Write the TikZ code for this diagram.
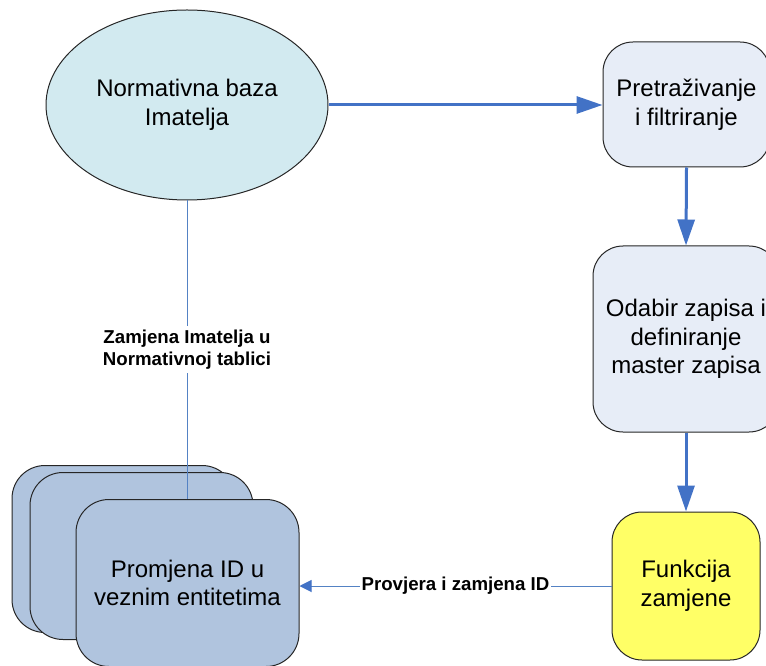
\documentclass[tikz,border=0pt]{standalone}
\usepackage{fontspec}
\setmainfont{Liberation Sans}
\usetikzlibrary{shapes.geometric,arrows.meta}

\definecolor{ellfill}{RGB}{210,234,240}
\definecolor{procfill}{RGB}{231,237,247}
\definecolor{stackfill}{RGB}{176,196,222}
\definecolor{funcfill}{RGB}{255,255,102}
\definecolor{flowblue}{RGB}{66,114,198}
\definecolor{linkblue}{RGB}{84,130,196}

\tikzset{
  outline/.style={draw=black!85, line width=0.75pt},
  bigtext/.style={font=\fontsize{18pt}{21.5pt}\selectfont, align=center, text=black},
  proc/.style={outline, bigtext, rectangle, rounded corners=22.5pt, inner sep=0pt},
  stackbox/.style={outline, rectangle, rounded corners=24.75pt, fill=stackfill,
    minimum width=167.25pt, minimum height=125.25pt, inner sep=0pt},
  flow/.style={draw=flowblue, line width=2.25pt,
    -{Triangle[length=19.5pt,width=12.75pt]}},
  link/.style={draw=linkblue, line width=0.75pt},
  linkarrow/.style={link, -{Triangle[length=9pt,width=9pt,color=flowblue]}},
  tag/.style={font=\fontsize{14pt}{16.5pt}\selectfont\bfseries, align=center,
    fill=white, text=black}
}

\begin{document}
\begin{tikzpicture}[x=0.75pt, y=-0.75pt]
  \useasboundingbox (0,0) rectangle (766,666);

  % source database
  \node[ellipse, outline, fill=ellfill, bigtext, minimum width=211.5pt,
        minimum height=142.5pt, inner sep=0pt] (nb) at (187,105)
        {Normativna baza\\Imatelja};

  % processing steps on the right
  \node[proc, fill=procfill, minimum width=125.25pt, minimum height=93.75pt]
        (pf) at (686.5,104.5) {Pretraživanje\\i filtriranje};
  \node[proc, fill=procfill, minimum width=139.5pt, minimum height=139.5pt]
        (oz) at (686,339) {Odabir zapisa i\\definiranje\\master zapisa};
  \node[proc, fill=funcfill, minimum width=111pt, minimum height=111pt]
        (fz) at (686,586) {Funkcija\\zamjene};

  % stack of linked entities
  \node[stackbox] (back1) at (123.5,549) {};
  \node[stackbox] (back2) at (141.5,556) {};
  \node[stackbox, bigtext] (front) at (187.5,583) {Promjena ID u\\veznim entitetima};

  % main flow
  \draw[flow] (nb.east) -- (nb.east -| pf.west);
  \draw[flow] (pf.south) -- (oz.north);
  \draw[flow] (oz.south) -- (fz.north);

  % replacement links
  \draw[link] (nb.south) -- (nb.south |- front.north)
    node[midway, tag, inner sep=3pt] (zl) {Zamjena Imatelja u\\Normativnoj tablici};
  \draw[linkarrow] (fz.west) -- (fz.west -| front.east)
    node[midway, tag, inner sep=1pt] (pl) {Provjera i zamjena ID};
\end{tikzpicture}
\end{document}
